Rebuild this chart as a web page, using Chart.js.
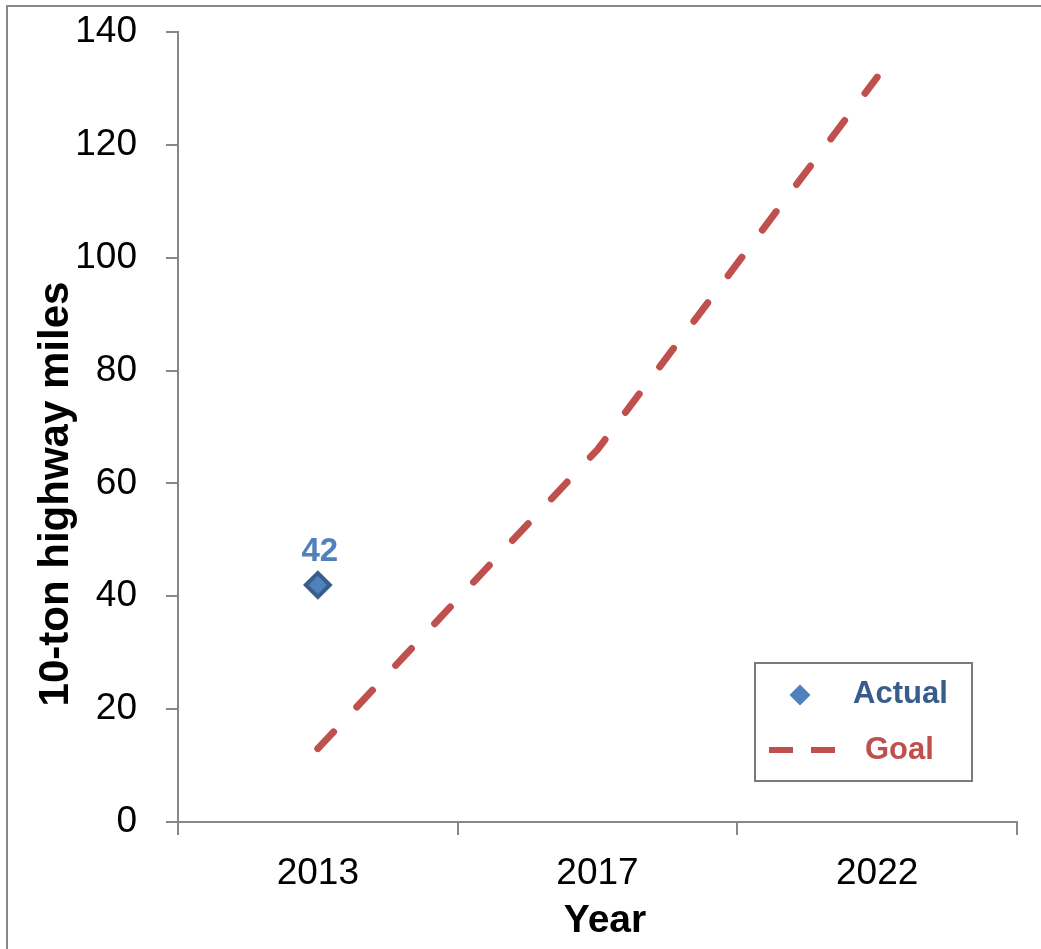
<!DOCTYPE html>
<html>
<head>
<meta charset="utf-8">
<script src="https://cdn.jsdelivr.net/npm/chart.js@4/dist/chart.umd.min.js"></script>
<style>
  html, body { margin: 0; padding: 0; background: #fff; overflow: hidden; }
  #wrap { position: relative; width: 1041px; height: 949px; }
</style>
</head>
<body>
<div id="wrap"><canvas id="c" width="1041" height="949"></canvas></div>
<script>
// Chart data
const years = ['2013', '2017', '2022'];
const actualMiles = [42, null, null];
const goalMiles = [13, 66, 132];
const yTickValues = [0, 20, 40, 60, 80, 100, 120, 140];
const seriesNames = ['Actual', 'Goal'];
const yAxisTitle = '10-ton highway miles';
const xAxisTitle = 'Year';

const FONT = '"Liberation Sans", Arial, sans-serif';
const AXIS_GRAY = '#878787';
const BLUE = '#4F81BD';
const BLUE_DARK = '#385D8A';
const RED = '#C0504D';

// Outer frame of the chart object
const framePlugin = {
  id: 'frame',
  beforeDraw(chart) {
    const ctx = chart.ctx;
    ctx.save();
    ctx.fillStyle = '#fff';
    ctx.fillRect(0, 0, chart.width, chart.height);
    ctx.strokeStyle = AXIS_GRAY;
    ctx.lineWidth = 2;
    ctx.strokeRect(7, 6, 1200, 1200);
    ctx.restore();
  }
};

// Axis titles, value label and boxed legend
const decorPlugin = {
  id: 'decor',
  afterDraw(chart) {
    const ctx = chart.ctx;
    ctx.save();

    // y-axis title
    ctx.fillStyle = '#000';
    ctx.font = 'bold 42px ' + FONT;
    ctx.textAlign = 'center';
    ctx.textBaseline = 'middle';
    ctx.translate(56, 494);
    ctx.rotate(-Math.PI / 2);
    ctx.fillText(yAxisTitle, 0, 0);
    ctx.setTransform(1, 0, 0, 1, 0, 0);

    // x-axis title
    ctx.font = 'bold 39px ' + FONT;
    ctx.fillText(xAxisTitle, 605, 921);

    // value label above the Actual point(s)
    const meta = chart.getDatasetMeta(0);
    ctx.font = 'bold 33px ' + FONT;
    ctx.fillStyle = BLUE;
    actualMiles.forEach((v, i) => {
      if (v === null) return;
      const pt = meta.data[i];
      ctx.fillText(String(v), pt.x + 2, pt.y - 33);
    });

    // legend box
    const lx = 755, ly = 663, lw = 217, lh = 118;
    ctx.strokeStyle = '#7a7a7a';
    ctx.lineWidth = 2;
    ctx.strokeRect(lx, ly, lw, lh);

    const dsA = chart.data.datasets[0];
    ctx.fillStyle = dsA.pointBackgroundColor;
    ctx.strokeStyle = dsA.pointBorderColor;
    ctx.lineWidth = 3.5;
    Chart.helpers.drawPoint(ctx, { pointStyle: 'rectRot', radius: 10.5, rotation: 0 }, 800, 695);

    const dsG = chart.data.datasets[1];
    ctx.strokeStyle = dsG.borderColor;
    ctx.lineWidth = 6;
    ctx.lineCap = 'butt';
    ctx.setLineDash([24, 18]);
    ctx.beginPath();
    ctx.moveTo(769, 750);
    ctx.lineTo(835, 750);
    ctx.stroke();
    ctx.setLineDash([]);

    ctx.font = 'bold 31px ' + FONT;
    ctx.textAlign = 'left';
    ctx.fillStyle = BLUE_DARK;
    ctx.fillText(seriesNames[0], 853, 694);
    ctx.fillStyle = RED;
    ctx.fillText(seriesNames[1], 865, 750);

    ctx.restore();
  }
};

new Chart(document.getElementById('c'), {
  type: 'line',
  data: {
    labels: years,
    datasets: [
      {
        label: seriesNames[0],
        data: actualMiles,
        showLine: false,
        backgroundColor: BLUE,
        borderColor: BLUE_DARK,
        pointStyle: 'rectRot',
        pointRadius: 12,
        pointBorderWidth: 4,
        pointBackgroundColor: BLUE,
        pointBorderColor: BLUE_DARK
      },
      {
        label: seriesNames[1],
        data: goalMiles,
        borderColor: RED,
        backgroundColor: RED,
        borderWidth: 7,
        borderDash: [23, 34],
        borderCapStyle: 'round',
        borderJoinStyle: 'round',
        pointRadius: 0,
        tension: 0,
        fill: false
      }
    ]
  },
  options: {
    responsive: false,
    animation: false,
    devicePixelRatio: 1,
    layout: { padding: { left: 10, right: 24, top: 32, bottom: 0 } },
    plugins: {
      legend: { display: false },
      tooltip: { enabled: false },
      title: { display: false }
    },
    scales: {
      x: {
        type: 'category',
        offset: true,
        grid: {
          offset: true,
          drawOnChartArea: false,
          drawTicks: true,
          tickLength: 13,
          color: AXIS_GRAY,
          lineWidth: 2
        },
        border: { display: true, color: AXIS_GRAY, width: 2 },
        ticks: {
          font: { family: FONT, size: 37 },
          color: '#000',
          padding: 17,
          maxRotation: 0
        },
        afterFit(scale) { scale.height = 127; }
      },
      y: {
        min: 0,
        max: 140,
        afterBuildTicks(scale) { scale.ticks = yTickValues.map(v => ({ value: v })); },
        grid: {
          drawOnChartArea: false,
          drawTicks: true,
          tickLength: 12,
          color: AXIS_GRAY,
          lineWidth: 2
        },
        border: { display: true, color: AXIS_GRAY, width: 2 },
        ticks: {
          font: { family: FONT, size: 37 },
          color: '#000',
          padding: 29
        },
        afterFit(scale) {
          scale.width = 168;
          scale.paddingTop = 0;
          scale.paddingBottom = 0;
        }
      }
    }
  },
  plugins: [framePlugin, decorPlugin]
});
</script>
</body>
</html>
